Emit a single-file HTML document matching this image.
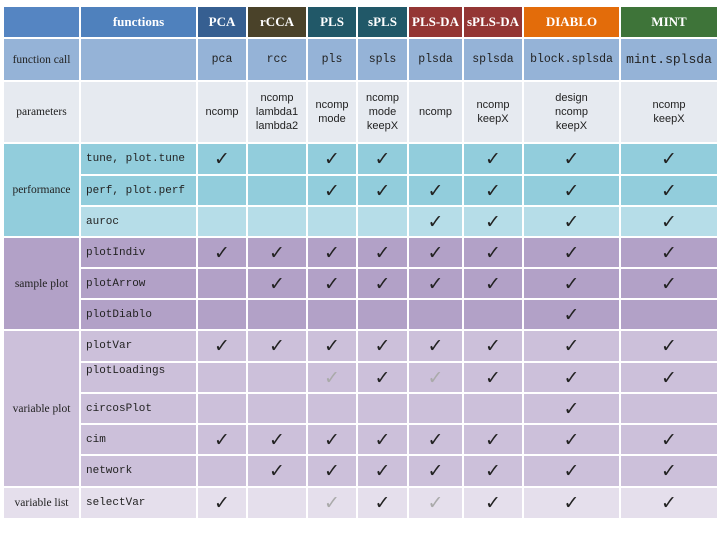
<!DOCTYPE html>
<html><head><meta charset="utf-8"><style>
body{margin:0;width:720px;height:540px;background:#fff;overflow:hidden}
table{position:absolute;left:2px;top:5px;border-collapse:separate;border-spacing:2px;table-layout:fixed}
td{padding:0;text-align:center;vertical-align:middle;font-family:"Liberation Serif",serif;font-size:11.5px;color:#222;overflow:hidden}
.h td{color:#fff;font-weight:bold;font-size:13px}
.m{font-family:"Liberation Mono",monospace;font-size:11px;text-align:left;padding-left:5px}
.c{font-family:"Liberation Mono",monospace;font-size:11.5px}
.s{font-family:"Liberation Sans",sans-serif;font-size:11px;line-height:14px}
.k{font-family:"DejaVu Sans",sans-serif;font-size:19px;color:#222}
.g{color:#aaa}
.pf td{background:#92cddc}.au td{background:#b6dde8}
.sp td{background:#b2a1c7}.vp td{background:#ccc0da}.vl td{background:#e5dfec}
</style></head><body>
<table>
<colgroup><col style="width:75px"><col style="width:115px"><col style="width:48px"><col style="width:58px"><col style="width:48px"><col style="width:49px"><col style="width:53px"><col style="width:58px"><col style="width:95px"><col style="width:96px"></colgroup>
<tr class="h" style="height:30px"><td style="background:#5585c2"></td><td style="background:#4f81bd">functions</td><td style="background:#365f91">PCA</td><td style="background:#4a4229">rCCA</td><td style="background:#215868">PLS</td><td style="background:#215868">sPLS</td><td style="background:#943634">PLS-DA</td><td style="background:#943634">sPLS-DA</td><td style="background:#e36c0a">DIABLO</td><td style="background:#3e7439">MINT</td></tr>
<tr style="height:41px;background:#95b3d7"><td style="background:#95b3d7">function call</td><td style="background:#95b3d7"></td><td class="c" style="background:#95b3d7">pca</td><td class="c" style="background:#95b3d7">rcc</td><td class="c" style="background:#95b3d7">pls</td><td class="c" style="background:#95b3d7">spls</td><td class="c" style="background:#95b3d7">plsda</td><td class="c" style="background:#95b3d7">splsda</td><td class="c" style="background:#95b3d7">block.splsda</td><td class="c" style="background:#95b3d7;font-size:13px">mint.splsda</td></tr>
<tr style="height:60px" class="pr"><td style="background:#e6eaf0">parameters</td><td style="background:#e6eaf0"></td><td class="s" style="background:#e6eaf0">ncomp</td><td class="s" style="background:#e6eaf0">ncomp<br>lambda1<br>lambda2</td><td class="s" style="background:#e6eaf0">ncomp<br>mode</td><td class="s" style="background:#e6eaf0">ncomp<br>mode<br>keepX</td><td class="s" style="background:#e6eaf0">ncomp</td><td class="s" style="background:#e6eaf0">ncomp<br>keepX</td><td class="s" style="background:#e6eaf0">design<br>ncomp<br>keepX</td><td class="s" style="background:#e6eaf0">ncomp<br>keepX</td></tr>
<tr class="pf" style="height:30px"><td rowspan="3" style="background:#92cddc">performance</td><td class="m">tune, plot.tune</td><td class="k">✓</td><td></td><td class="k">✓</td><td class="k">✓</td><td></td><td class="k">✓</td><td class="k">✓</td><td class="k">✓</td></tr>
<tr class="pf" style="height:29px"><td class="m">perf, plot.perf</td><td></td><td></td><td class="k">✓</td><td class="k">✓</td><td class="k">✓</td><td class="k">✓</td><td class="k">✓</td><td class="k">✓</td></tr>
<tr class="au" style="height:29px"><td class="m">auroc</td><td></td><td></td><td></td><td></td><td class="k">✓</td><td class="k">✓</td><td class="k">✓</td><td class="k">✓</td></tr>
<tr class="sp" style="height:29px"><td rowspan="3">sample plot</td><td class="m">plotIndiv</td><td class="k">✓</td><td class="k">✓</td><td class="k">✓</td><td class="k">✓</td><td class="k">✓</td><td class="k">✓</td><td class="k">✓</td><td class="k">✓</td></tr>
<tr class="sp" style="height:29px"><td class="m">plotArrow</td><td></td><td class="k">✓</td><td class="k">✓</td><td class="k">✓</td><td class="k">✓</td><td class="k">✓</td><td class="k">✓</td><td class="k">✓</td></tr>
<tr class="sp" style="height:29px"><td class="m">plotDiablo</td><td></td><td></td><td></td><td></td><td></td><td></td><td class="k">✓</td><td></td></tr>
<tr class="vp" style="height:30px"><td rowspan="5">variable plot</td><td class="m">plotVar</td><td class="k">✓</td><td class="k">✓</td><td class="k">✓</td><td class="k">✓</td><td class="k">✓</td><td class="k">✓</td><td class="k">✓</td><td class="k">✓</td></tr>
<tr class="vp" style="height:29px"><td class="m" style="vertical-align:top;padding-top:2px">plotLoadings</td><td></td><td></td><td class="k g">✓</td><td class="k">✓</td><td class="k g">✓</td><td class="k">✓</td><td class="k">✓</td><td class="k">✓</td></tr>
<tr class="vp" style="height:29px"><td class="m">circosPlot</td><td></td><td></td><td></td><td></td><td></td><td></td><td class="k">✓</td><td></td></tr>
<tr class="vp" style="height:29px"><td class="m">cim</td><td class="k">✓</td><td class="k">✓</td><td class="k">✓</td><td class="k">✓</td><td class="k">✓</td><td class="k">✓</td><td class="k">✓</td><td class="k">✓</td></tr>
<tr class="vp" style="height:30px"><td class="m">network</td><td></td><td class="k">✓</td><td class="k">✓</td><td class="k">✓</td><td class="k">✓</td><td class="k">✓</td><td class="k">✓</td><td class="k">✓</td></tr>
<tr class="vl" style="height:30px"><td>variable list</td><td class="m">selectVar</td><td class="k">✓</td><td></td><td class="k g">✓</td><td class="k">✓</td><td class="k g">✓</td><td class="k">✓</td><td class="k">✓</td><td class="k">✓</td></tr>
</table>
</body></html>
